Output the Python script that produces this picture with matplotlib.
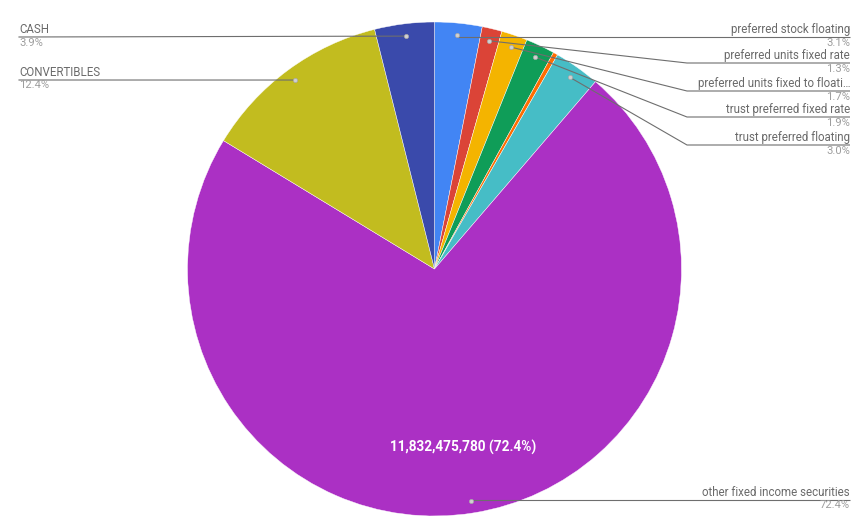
import numpy as np
import matplotlib
matplotlib.use('Agg')
import matplotlib.pyplot as plt

plt.rcParams['font.family'] = ['Roboto', 'DejaVu Sans']

# slices, clockwise from 12 o'clock
categories = ['preferred stock floating', 'preferred units fixed rate',
              'preferred units fixed to floating', 'trust preferred fixed rate',
              'trust preferred fixed to floating', 'trust preferred floating',
              'other fixed income securities', 'CONVERTIBLES', 'CASH']
values = [506640000, 212460000, 277830000, 310520000, 49030000,
          490300000, 11832475780, 2026560000, 637380000]
shown_names = ['preferred stock floating', 'preferred units fixed rate',
               'preferred units fixed to floati\u2026', 'trust preferred fixed rate',
               None, 'trust preferred floating',
               'other fixed income securities', 'CONVERTIBLES', 'CASH']
colors = ['#4285F4', '#DB4437', '#F4B400', '#0F9D58', '#FF6D01',
          '#46BDC6', '#AB30C4', '#C2BC1F', '#3A4AAB']

W, H = 855, 527
fig = plt.figure(figsize=(W / 100, H / 100), dpi=100)
ax = fig.add_axes([0, 0, 1, 1])

cx, cy, R = 434.5, H - 269, 247
wedges, _ = ax.pie(values, colors=colors, startangle=90, counterclock=False,
                   center=(cx, cy), radius=R,
                   wedgeprops=dict(edgecolor='white', linewidth=0.3))
ax.set_xlim(0, W)
ax.set_ylim(0, H)
ax.axis('off')

total = sum(values)
pcts = [v / total * 100 for v in values]

# label layout: (side, y of leader line in pixels from top)
layout = {0: ('right', 37), 1: ('right', 63), 2: ('right', 91), 3: ('right', 117),
          5: ('right', 145), 6: ('right', 500), 7: ('left', 80), 8: ('left', 37)}

name_col = '#6a6a6a'
pct_col = '#9e9e9e'
line_col = '#6e6e6e'

for i, w in enumerate(wedges):
    if i not in layout:
        continue
    side, ly = layout[i]
    ly = H - ly
    mid = np.deg2rad((w.theta1 + w.theta2) / 2)
    dx = cx + 0.95 * R * np.cos(mid)
    dy = cy + 0.95 * R * np.sin(mid)
    if side == 'right':
        ex = 687 if abs(dy - ly) > 3 else dx
        ax.plot([dx, ex, 850], [dy, ly, ly], color=line_col, lw=0.8,
                solid_capstyle='butt', zorder=3)
        tx, ha = 850, 'right'
    else:
        ax.plot([dx, 19], [dy, ly], color=line_col, lw=0.8, zorder=3)
        tx, ha = 19, 'left'
    ax.plot(dx, dy, 'o', ms=3, mfc='#d0d0d0', mec='#a8a8a8', mew=0.5, zorder=4)
    ax.text(tx, ly + 1, shown_names[i], ha=ha, va='bottom', fontsize=8.3,
            color=name_col)
    ax.text(tx, ly - 0.5, '%.1f%%' % pcts[i], ha=ha, va='top', fontsize=8.1,
            color=pct_col)

# value label inside the biggest slice
big = int(np.argmax(values))
w = wedges[big]
mid = np.deg2rad((w.theta1 + w.theta2) / 2)
ax.text(cx + 0.73 * R * np.cos(mid), cy + 0.73 * R * np.sin(mid),
        '{:,} ({:.1f}%)'.format(values[big], pcts[big]),
        ha='center', va='center', fontsize=9.8, color='white', fontweight='bold')

fig.savefig('out.png', dpi=100)
